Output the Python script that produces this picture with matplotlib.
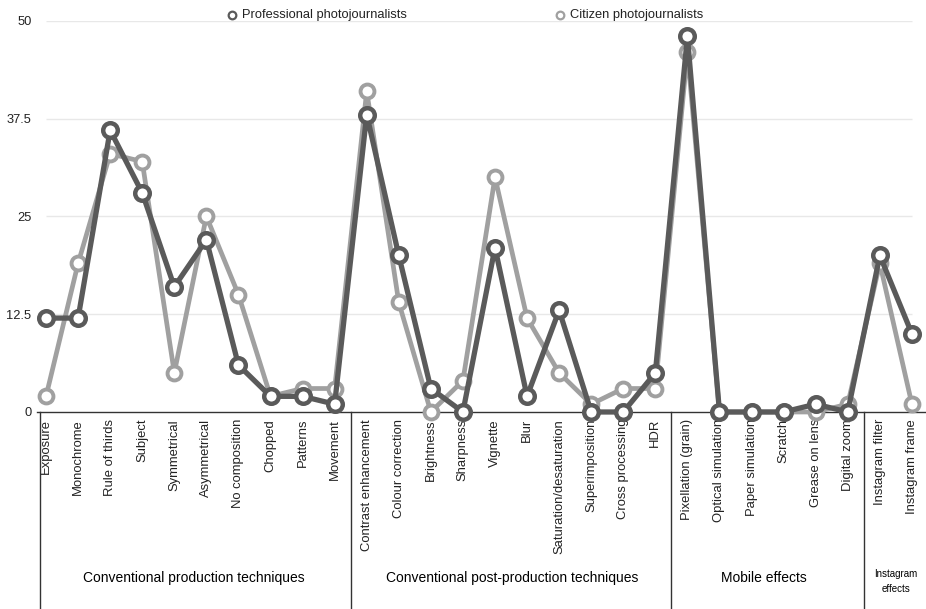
import numpy as np
from matplotlib import pyplot as plt
from matplotlib.lines import Line2D
from matplotlib import transforms

# Data
categories = [
    'Exposure', 'Monochrome', 'Rule of thirds', 'Subject', 'Symmetrical',
    'Asymmetrical', 'No composition', 'Chopped', 'Patterns', 'Movement',
    'Contrast enhancement', 'Colour correction', 'Brightness', 'Sharpness',
    'Vignette', 'Blur', 'Saturation/desaturation', 'Superimposition',
    'Cross processing', 'HDR', 'Pixellation (grain)', 'Optical simulation',
    'Paper simulation', 'Scratch', 'Grease on lens', 'Digital zoom',
    'Instagram filter', 'Instagram frame',
]
professional = [12, 12, 36, 28, 16, 22, 6, 2, 2, 1,
                38, 20, 3, 0, 21, 2, 13, 0, 0, 5,
                48, 0, 0, 0, 1, 0,
                20, 10]
citizen = [2, 19, 33, 32, 5, 25, 15, 2, 3, 3,
           41, 14, 0, 4, 30, 12, 5, 1, 3, 3,
           46, 0, 0, 0, 0, 1,
           19, 1]
groups = ['Conventional production techniques', 'Conventional post-production techniques',
          'Mobile effects', 'Instagram\neffects']
group_sizes = [10, 10, 6, 2]
yticks = [0, 12.5, 25, 37.5, 50]
ytick_labels = ['0', '12.5', '25', '37.5', '50']

dark = '#5a5a5a'
light = '#a0a0a0'
font = 'Liberation Sans'

fig = plt.figure(figsize=(9.26, 6.09), dpi=100)
ax = fig.add_axes([0.04, 0.3235, 0.96, 0.6425])

x = np.arange(len(categories))
ax.set_xlim(-0.28, 27.44)
ax.set_ylim(0, 50)

# grid
for yv in yticks[1:]:
    ax.hlines(yv, 0, len(categories) - 1, color='#e8e8e8', lw=1, zorder=0)

ax.plot(x, citizen, color=light, lw=3.4, marker='o', ms=10, mfc='white',
        mec=light, mew=2.8, clip_on=False, zorder=3)
ax.plot(x, professional, color=dark, lw=3.8, marker='o', ms=10.5, mfc='white',
        mec=dark, mew=3.2, clip_on=False, zorder=4)

for s in ['top', 'right', 'left']:
    ax.spines[s].set_visible(False)
ax.spines['bottom'].set_color('#333333')
ax.spines['bottom'].set_linewidth(1.0)

ax.set_xticks(x)
ax.set_xticklabels(categories, rotation=90, fontsize=9.4, family=font, va='top')
ax.set_yticks(yticks)
ax.set_yticklabels(ytick_labels, fontsize=9.3, family=font)
ax.tick_params(axis='both', length=0, colors='#222222')
ax.tick_params(axis='x', pad=5)
ax.tick_params(axis='y', pad=4)

# group separators and labels
trans = transforms.blended_transform_factory(ax.transData, fig.transFigure)
bottom_frac = 0.3235
edges = [-0.2]
pos = -0.5
for n in group_sizes:
    pos += n
    edges.append(pos)
for e in edges[:-1]:
    ax.add_line(Line2D([e, e], [0, bottom_frac], transform=trans, color='#333333',
                       lw=1.0, clip_on=False))

centers = [4.6, 14.55, 22.4, 26.5]
for name, c in zip(groups, centers):
    if '\n' in name:
        fig.text(c, 0.045, name, transform=trans, ha='center', va='center',
                 fontsize=7, family=font, linespacing=1.6)
    else:
        fig.text(c, 0.051, name, transform=trans, ha='center', va='center',
                 fontsize=10, family=font)

# legend
for lx, label, col in [(232, 'Professional photojournalists', dark),
                       (560, 'Citizen photojournalists', light)]:
    fig.add_artist(Line2D([lx / 926], [1 - 15 / 609], transform=fig.transFigure,
                          marker='o', ms=5.5, mfc='white', mec=col, mew=1.6, lw=0))
    fig.text((lx + 10) / 926, 1 - 15 / 609, label, ha='left', va='center',
             fontsize=9.3, family=font, color='#222222')

fig.savefig('out.png', dpi=100)
